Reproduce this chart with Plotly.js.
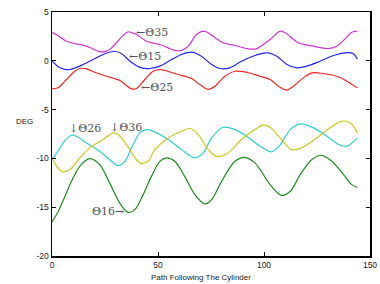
<!DOCTYPE html>
<html>
<head>
<meta charset="utf-8">
<script src="https://cdn.plot.ly/plotly-3.0.1.min.js"></script>
<style>
html,body{margin:0;padding:0;background:#fff;}
#chart{width:380px;height:284px;}
</style>
</head>
<body>
<div id="chart"></div>
<script>
// Θ35 (magenta)
const x35 = [0, 2, 6.8, 10, 14.5, 18, 22.5, 25.7, 28, 30.4, 33, 35.9, 38, 39.9, 44.6, 48.5, 50.9, 54, 57.9, 61.1, 64.3, 68.2, 71.8, 76, 80.7, 86.3, 92.5, 96.5, 98.5, 102.9, 107.6, 110, 116.2, 123.2, 130.3, 134.3, 138, 141.4, 144];
const y35 = [2.9, 2.7, 2.0, 1.8, 1.6, 1.35, 0.92, 0.99, 1.3, 1.85, 2.5, 2.97, 2.85, 2.7, 2.0, 1.77, 1.67, 1.4, 1.06, 1.06, 1.5, 2.7, 3.04, 2.52, 1.85, 1.57, 1.23, 1.23, 1.5, 2.18, 3.04, 2.87, 1.85, 1.5, 1.26, 1.5, 2.2, 2.93, 3.04];
// Θ15 (blue)
const x15 = [0, 3.7, 6, 8.4, 13.1, 19.4, 24.1, 29.6, 32.7, 37.4, 42.2, 46.1, 50.9, 56.4, 61.1, 65.8, 70.5, 75.3, 79.2, 83.9, 89.4, 95.7, 100, 102.1, 106.1, 110.8, 115.5, 120.2, 126.4, 132.8, 138.2, 142.2, 144];
const y15 = [0.0, -0.72, -0.87, -0.89, -0.55, 0.13, 0.65, 0.98, 0.75, -0.14, -0.72, -0.79, -0.55, 0.13, 0.65, 0.88, 0.47, -0.38, -0.79, -0.72, -0.04, 0.54, 0.78, 0.82, 0.47, -0.38, -0.72, -0.55, -0.04, 0.54, 0.82, 0.72, 0.2];
// Θ25 (red)
const x25 = [0, 2.8, 6.8, 10.8, 13.1, 16.3, 20.2, 25.7, 32, 35, 37.4, 39.9, 43.8, 47.7, 50.9, 53.2, 59.5, 65.8, 69.7, 73.7, 76.9, 81.6, 86.3, 91.8, 98.2, 102.9, 106.8, 110.8, 113.9, 118.6, 122.6, 128, 135.1, 139.1, 144];
const y25 = [-2.87, -2.77, -1.92, -1.07, -0.79, -0.82, -1.17, -1.58, -2.02, -2.5, -2.87, -2.84, -1.92, -1.07, -0.89, -0.99, -1.4, -1.82, -2.43, -2.94, -2.6, -1.58, -1.07, -1.17, -1.58, -1.92, -2.6, -3.0, -2.6, -1.75, -1.23, -1.3, -1.64, -2.09, -2.77];
// Θ26 (cyan)
const x26 = [0, 2.8, 5.8, 9.2, 11.5, 16.3, 22.5, 28.1, 31.2, 34.4, 37.5, 41.4, 44.6, 48.5, 54.8, 61.1, 67.4, 71.3, 75.3, 80.7, 86.3, 91.8, 98.2, 103.6, 107.7, 112.4, 117.1, 123.4, 129.7, 135.2, 139.1, 144];
const y26 = [-10.12, -9.27, -8.25, -7.63, -7.73, -8.41, -9.27, -10.3, -10.74, -10.3, -8.92, -7.38, -7.05, -7.28, -8.07, -9.1, -9.95, -9.44, -7.9, -6.81, -7.05, -7.73, -8.76, -9.33, -8.58, -7.05, -6.46, -6.87, -7.73, -8.58, -8.76, -7.9];
// Θ36 (yellow)
const x36 = [0, 2.8, 5.2, 8.4, 13.1, 17.8, 24.1, 28.9, 31.2, 35.1, 39.8, 42.2, 45.3, 48.5, 54.8, 61.1, 65.1, 69, 73.7, 77.6, 82.4, 89.4, 95.7, 99.6, 102.9, 107.6, 113.1, 117.8, 124.9, 131.2, 136.7, 140.7, 144];
const y36 = [-9.95, -10.97, -11.38, -11.15, -9.95, -8.92, -8.07, -7.38, -7.56, -8.58, -10.12, -10.53, -10.3, -9.1, -7.9, -7.22, -6.94, -7.56, -9.1, -9.79, -9.54, -8.07, -7.05, -6.6, -6.81, -7.9, -9.1, -8.92, -7.9, -6.87, -6.19, -6.36, -7.38];
// Θ16 (green)
const x16 = [0, 2.8, 5.8, 9.2, 13.1, 17.8, 22.5, 27.2, 31.9, 35.9, 39.1, 43, 46.9, 50.9, 54, 57.9, 62.6, 67.4, 72.1, 75.3, 80, 86.3, 91, 95.7, 98.2, 102.9, 108.2, 112.4, 117.1, 122.6, 127.3, 132, 137.5, 141.4, 144];
const y16 = [-16.5, -15.5, -14.05, -12.35, -10.81, -10.02, -10.64, -12.51, -14.56, -15.53, -15.25, -13.71, -11.84, -10.3, -9.95, -10.3, -11.84, -13.71, -14.67, -14.23, -12.35, -10.3, -9.89, -10.46, -11.15, -12.69, -13.78, -13.37, -11.66, -10.12, -9.68, -10.3, -11.66, -12.69, -12.96];

const xTickVals = [0, 50, 100, 150];
const yTickVals = [5, 0, -5, -10, -15, -20];

const series = [
  {x: x35, y: y35, color: '#cc33cc'},
  {x: x15, y: y15, color: '#2323ee'},
  {x: x25, y: y25, color: '#ee2222'},
  {x: x26, y: y26, color: '#33cccc'},
  {x: x36, y: y36, color: '#c8c822'},
  {x: x16, y: y16, color: '#1f8a1f'}
];

const traces = series.map(s => ({
  x: s.x, y: s.y, type: 'scatter', mode: 'lines',
  line: {color: s.color, width: 1.2, shape: 'spline', smoothing: 0.9},
  hoverinfo: 'skip', showlegend: false
}));

const serif = {family: '"DejaVu Serif", "Liberation Serif", serif', size: 11, color: '#555'};
const sans = {family: '"Liberation Sans", Arial, sans-serif', size: 8, color: '#222'};

const ann = [
  {x: 39.0, y: 2.87, text: '←Θ35', xanchor: 'left'},
  {x: 35.9, y: 0.41, text: '←Θ15', xanchor: 'left'},
  {x: 41.4, y: -2.77, text: '←Θ25', xanchor: 'left'},
  {x: 7.4, y: -6.94, text: '↓Θ26', xanchor: 'left'},
  {x: 27.0, y: -6.87, text: '↓Θ36', xanchor: 'left'},
  {x: 34.2, y: -15.43, text: 'Θ16→', xanchor: 'right'}
].map(a => Object.assign({xref: 'x', yref: 'y', yanchor: 'middle', showarrow: false, font: serif, borderpad: 0}, a));

ann.push({xref: 'paper', yref: 'paper', x: -0.088, y: 0.553, text: 'DEG', showarrow: false,
  xanchor: 'center', yanchor: 'middle', font: sans, borderpad: 0});
ann.push({xref: 'paper', yref: 'paper', x: 0.469, y: -0.088, text: 'Path Following The Cylinder', showarrow: false,
  xanchor: 'center', yanchor: 'middle', font: sans, borderpad: 0});

const layout = {
  width: 380, height: 284,
  margin: {l: 52, r: 10, t: 12, b: 28, pad: 0},
  paper_bgcolor: '#fff', plot_bgcolor: '#fff',
  showlegend: false,
  xaxis: {
    range: [0, 150], tickvals: xTickVals, ticktext: xTickVals.map(String),
    ticks: 'inside', ticklen: 4, tickwidth: 1, tickcolor: '#000',
    showline: true, linecolor: '#000', linewidth: 1.5, mirror: 'ticks',
    showgrid: false, zeroline: false, tickfont: {family: '"Liberation Sans", Arial, sans-serif', size: 8.5, color: '#222'}
  },
  yaxis: {
    range: [-20, 5], tickvals: yTickVals, ticktext: yTickVals.map(String),
    ticks: 'inside', ticklen: 4, tickwidth: 1, tickcolor: '#000',
    showline: true, linecolor: '#000', linewidth: 1.5, mirror: 'ticks',
    showgrid: false, zeroline: false, tickfont: {family: '"Liberation Sans", Arial, sans-serif', size: 8.5, color: '#222'}
  },
  annotations: ann
};

Plotly.newPlot('chart', traces, layout, {displayModeBar: false, staticPlot: true});
</script>
</body>
</html>
